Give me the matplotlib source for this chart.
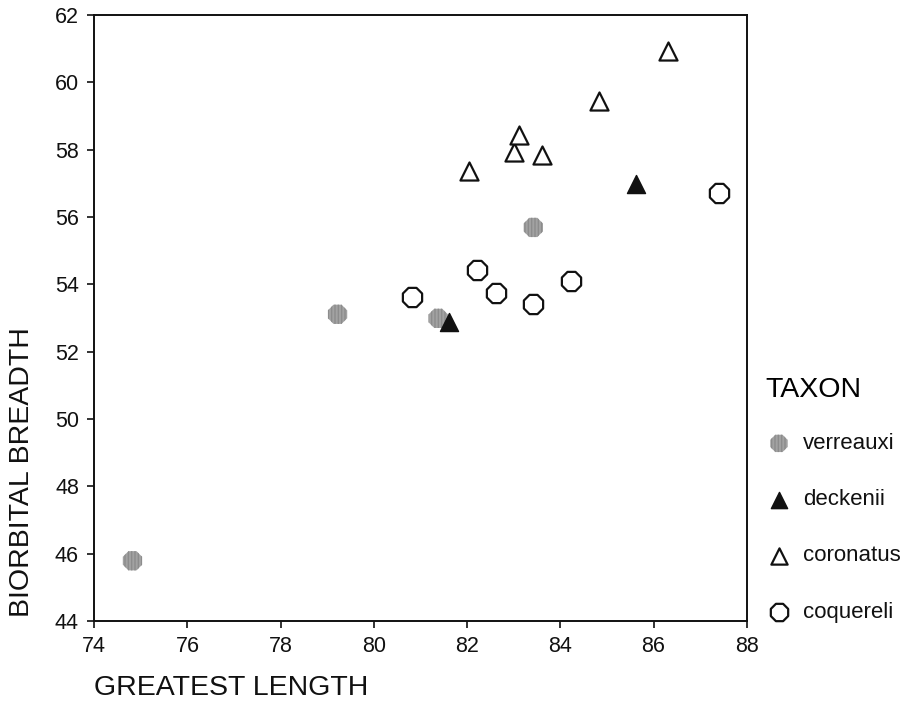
import matplotlib.pyplot as plt
import numpy as np

plt.rcParams['font.family'] = ['Liberation Sans', 'DejaVu Sans']

# data
verreauxi_x = [74.82, 79.22, 81.38, 83.42]
verreauxi_y = [45.79, 53.11, 52.99, 55.69]
deckenii_x = [81.61, 85.62]
deckenii_y = [52.89, 56.98]
coronatus_x = [82.03, 83.01, 83.12, 83.60, 84.82, 86.32]
coronatus_y = [57.37, 57.92, 58.43, 57.84, 59.45, 60.94]
coquereli_x = [80.81, 82.21, 82.61, 83.41, 84.22, 87.41]
coquereli_y = [53.61, 54.42, 53.73, 53.41, 54.11, 56.70]

xticks = np.arange(74, 89, 2)
yticks = np.arange(44, 63, 2)

fig = plt.figure(figsize=(9.09, 7.03), dpi=100)
ax = fig.add_axes([0.1037, 0.1166, 0.7178, 0.8621])

ax.scatter(verreauxi_x, verreauxi_y, marker='8', s=15**2, facecolor='#a2a2a2',
           edgecolor='#8c8c8c', linewidths=0, hatch='|||||', label='verreauxi', zorder=3)
ax.scatter(deckenii_x, deckenii_y, marker='^', s=13**2, facecolor='#111111',
           edgecolor='#111111', linewidths=1, label='deckenii', zorder=4)
ax.scatter(coronatus_x, coronatus_y, marker='^', s=13**2, facecolor='white',
           edgecolor='#111111', linewidths=1.6, label='coronatus', zorder=3)
ax.scatter(coquereli_x, coquereli_y, marker='8', s=15**2, facecolor='white',
           edgecolor='#111111', linewidths=1.6, label='coquereli', zorder=3)

ax.set_xlim(74, 88)
ax.set_ylim(44, 62)
ax.set_xticks(xticks)
ax.set_yticks(yticks)
ax.tick_params(direction='out', length=5, width=1.2, labelsize=15.5, colors='#111111', pad=6)
ax.tick_params(top=False, right=False)
for sp in ax.spines.values():
    sp.set_linewidth(1.4)
    sp.set_color('#111111')

ax.set_xlabel('GREATEST LENGTH', fontsize=20.5, color='#111111', labelpad=13, loc='left')
ax.xaxis.label.set_x(0.0)
ax.set_ylabel('BIORBITAL BREADTH', fontsize=20.5, color='#111111', labelpad=14, loc='bottom')
ax.yaxis.label.set_y(0.007)

leg = ax.legend(title='TAXON', loc='upper left', bbox_to_anchor=(0.83, 0.48),
                bbox_transform=fig.transFigure, frameon=False, fontsize=16,
                title_fontsize=20.5, labelspacing=1.58, handletextpad=0.5,
                handlelength=1.2, borderpad=0, markerscale=0.9)
leg._legend_box.align = 'left'
leg._legend_box.sep = 22
for t in leg.get_texts():
    t.set_color('#111111')

fig.savefig('out.png', dpi=100)
